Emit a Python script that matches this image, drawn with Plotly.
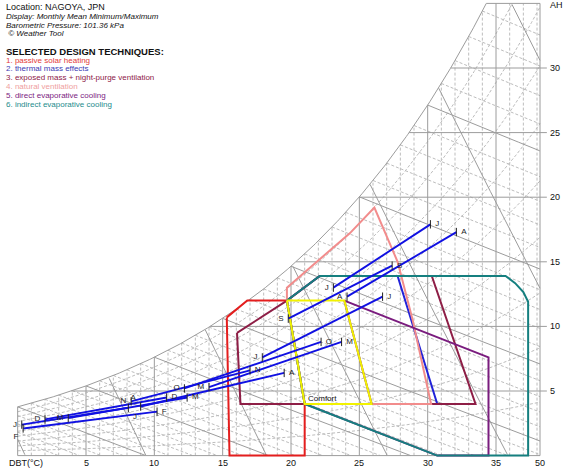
import numpy as np
import plotly.graph_objects as go

# ---------------------------------------------------------------- data
P_KPA = 101.36            # barometric pressure used for the psychrometrics
T_LEFT, T_RIGHT = 0.0, 38.22
W_TOP = 35.0

months = ["J", "F", "M", "A", "M", "J", "J", "A", "S", "O", "N", "D"]
t_min = [0.3, 0.4, 3.7, 9.0, 14.0, 17.9, 23.1, 24.1, 19.8, 12.2, 8.3, 2.0]
ah_at_tmin = [2.4, 2.1, 2.9, 3.8, 5.3, 7.6, 13.0, 12.3, 10.6, 5.2, 4.2, 2.8]
t_max = [8.1, 10.2, 12.4, 19.5, 23.7, 26.7, 30.2, 32.1, 27.4, 22.2, 17.0, 10.9]
ah_at_tmax = [3.7, 3.4, 4.5, 6.4, 8.8, 12.3, 17.9, 17.3, 14.7, 8.8, 6.6, 4.5]

# label placement for each end of the monthly lines
pos_min = ["middle left", "bottom left", "middle left", "top left", "middle left",
           "middle left", "middle left", "middle left", "middle left", "middle left",
           "middle left", "middle left"]
pos_max = ["bottom right", "middle right", "middle right", "middle right", "middle right",
           "middle right", "middle right", "middle right", "middle right", "middle right",
           "middle right", "middle right"]

# design-technique zones, (DBT, AH) vertices
comfort_zone = [(19.7, 12.0), (23.9, 12.0), (25.9, 4.0), (21.0, 4.0)]
passive_solar = [(15.3, 10.7), (16.8, 12.0), (19.7, 12.0), (21.0, 4.0),
                 (21.0, 0.0), (15.5, 0.0)]
thermal_mass = [(19.7, 12.0), (22.1, 13.9), (27.8, 13.9), (30.7, 4.0),
                (21.0, 4.0)]
night_purge = [(16.05, 9.5), (19.7, 12.0), (22.1, 13.9), (30.3, 13.9),
               (33.5, 4.0), (16.3, 4.0)]
natural_vent = [(19.7, 12.0), (19.7, 13.0), (22.1, 15.2), (24.3, 17.2),
                (26.1, 19.2), (27.8, 15.0), (28.9, 10.5), (29.7, 6.6),
                (30.25, 4.0), (21.0, 4.0)]
direct_evap = [(23.9, 12.0), (34.45, 7.6), (34.45, 0.0), (30.7, 0.0),
               (21.0, 4.0), (25.9, 4.0)]
indirect_evap = [(19.7, 12.0), (22.1, 13.9), (35.7, 13.9), (36.4, 13.35),
                 (37.0, 12.65), (37.35, 11.9), (37.35, 0.0), (30.7, 0.0),
                 (21.0, 4.0)]

x_ticks = [5, 10, 15, 20, 25, 30, 35]
x_tick_text = ["5", "10", "15", "20", "25", "30", "35"]
y_ticks = [5, 10, 15, 20, 25, 30]

legend_items = [
    ("1. passive solar heating", "#E23A3A"),
    ("2. thermal mass effects", "#3A3AB4"),
    ("3. exposed mass + night-purge ventilation", "#8E2048"),
    ("4. natural ventilation", "#EFA0A0"),
    ("5. direct evaporative cooling", "#7C2482"),
    ("6. indirect evaporative cooling", "#1E8C8C"),
]

# ---------------------------------------------------------------- psychrometrics
def pws(t):
    return 0.61094 * np.exp(17.625 * t / (t + 243.04))


def w_rh(t, rh):
    pw = rh * pws(t)
    return 622.0 * pw / (P_KPA - pw)


def w_wb(t, twb):
    ws = w_rh(twb, 1.0) / 1000.0
    w = ((2501 - 2.326 * twb) * ws - 1.006 * (t - twb)) / (2501 + 1.86 * t - 4.186 * twb)
    return w * 1000.0


def w_vol(t, v):
    return (v * P_KPA / (0.287 * (t + 273.15)) - 1.0) / 1.6078 * 1000.0


_tt = np.linspace(-10, 50, 6001)
_ws = w_rh(_tt, 1.0)


def t_sat(w):
    return float(np.interp(w, _ws, _tt))


def clip_curve(t, w):
    """Keep the part of a curve lying inside the chart envelope."""
    lim = np.minimum(w_rh(t, 1.0), W_TOP) + 1e-9
    ok = (t >= T_LEFT - 1e-9) & (t <= T_RIGHT + 1e-9) & (w >= -1e-9) & (w <= lim)
    xs, ys = [], []
    prev = False
    for ti, wi, k in zip(t, w, ok):
        if k:
            xs.append(float(ti)); ys.append(float(wi))
        elif prev:
            xs.append(None); ys.append(None)
        prev = k
    xs.append(None); ys.append(None)
    return xs, ys


# ---------------------------------------------------------------- grid
dash_x, dash_y = [], []
solid_x, solid_y = [], []

# relative humidity curves
for rh in np.arange(0.1, 0.95, 0.1):
    t = np.linspace(T_LEFT, T_RIGHT, 500)
    xs, ys = clip_curve(t, w_rh(t, rh))
    dash_x += xs; dash_y += ys

# wet-bulb lines
for twb in range(-4, 36):
    t = np.linspace(max(twb, T_LEFT), T_RIGHT, 600)
    xs, ys = clip_curve(t, w_wb(t, twb))
    if twb % 5 == 0 and twb >= 0:
        solid_x += xs; solid_y += ys
    else:
        dash_x += xs; dash_y += ys

# specific volume lines
for v in np.arange(0.775, 0.93, 0.025):
    t = np.linspace(T_LEFT, T_RIGHT, 800)
    xs, ys = clip_curve(t, w_vol(t, v))
    solid_x += xs; solid_y += ys

# dry-bulb verticals
for t in range(1, 39):
    top = min(w_rh(t, 1.0), W_TOP)
    if t % 5 == 0:
        solid_x += [t, t, None]; solid_y += [0, top, None]
    else:
        dash_x += [t, t, None]; dash_y += [0, top, None]

# saturation curve
ts = np.linspace(T_LEFT, t_sat(W_TOP), 300)
solid_x += list(ts) + [None]; solid_y += list(w_rh(ts, 1.0)) + [None]

# horizontal AH lines with right-hand ticks
tick_end = T_RIGHT + 0.5
for w in y_ticks + [W_TOP]:
    solid_x += [t_sat(w), tick_end if w != W_TOP else T_RIGHT, None]
    solid_y += [w, w, None]

# borders
solid_x += [T_LEFT, T_LEFT, None, T_LEFT, T_RIGHT, T_RIGHT, None]
solid_y += [w_rh(T_LEFT, 1.0), 0, None, 0, 0, W_TOP, None]

fig = go.Figure()
fig.add_trace(go.Scatter(x=dash_x, y=dash_y, mode="lines", hoverinfo="skip",
                         line=dict(color="#BDBDBD", width=1, dash="3px,2px")))
fig.add_trace(go.Scatter(x=solid_x, y=solid_y, mode="lines", hoverinfo="skip",
                         line=dict(color="#9C9C9C", width=1)))


# ---------------------------------------------------------------- zones
def add_zone(pts, color, width=2):
    xs = [p[0] for p in pts] + [pts[0][0]]
    ys = [p[1] for p in pts] + [pts[0][1]]
    fig.add_trace(go.Scatter(x=xs, y=ys, mode="lines", hoverinfo="skip",
                             line=dict(color=color, width=width)))


add_zone(thermal_mass, "#2222D8")
add_zone(night_purge, "#8E1E46")
add_zone(passive_solar, "#E41E1E")
add_zone(natural_vent, "#F28C8C")
add_zone(direct_evap, "#7A1C7E")
add_zone(indirect_evap, "#157F7F")
add_zone(comfort_zone, "#F2F200")

# ---------------------------------------------------------------- monthly lines
for i, m in enumerate(months):
    fig.add_trace(go.Scatter(
        x=[t_min[i], t_max[i]], y=[ah_at_tmin[i], ah_at_tmax[i]],
        mode="lines", hoverinfo="skip",
        line=dict(color="#1010E2", width=1.9)))
label_font = dict(family="Arial, Liberation Sans, sans-serif", size=8, color="#222222")
tick_marker = dict(symbol="line-ns", size=6, line=dict(width=1, color="#222222"))
fig.add_trace(go.Scatter(
    x=t_min, y=ah_at_tmin, mode="markers+text", text=months,
    textposition=pos_min, hoverinfo="skip", textfont=label_font, marker=tick_marker))
fig.add_trace(go.Scatter(
    x=t_max, y=ah_at_tmax, mode="markers+text", text=months,
    textposition=pos_max, hoverinfo="skip", textfont=label_font, marker=tick_marker))

# ---------------------------------------------------------------- text
FONT = "Arial, Liberation Sans, sans-serif"
annotations = []


def label(x, y, text, size=8, color="#111111", xanchor="left", xref="x", yref="y", **kw):
    annotations.append(dict(x=x, y=y, xref=xref, yref=yref, text=text, showarrow=False,
                            xanchor=xanchor, yanchor="middle",
                            font=dict(family=FONT, size=size, color=color), **kw))


label(21.1, 4.45, "Comfort")
for t, s in zip(x_ticks, x_tick_text):
    label(t, -0.55, s, size=9, xanchor="center")
label(T_RIGHT, -0.55, "50", size=9, xanchor="center")
label(-0.75, -0.55, "DBT(°C)", size=9)
for w in y_ticks:
    label(T_RIGHT + 0.55, w, str(w), size=9)
label(T_RIGHT + 0.55, 34.85, "AH", size=9)


# header block (paper coords from pixel positions)
def pxl(px, py, text, size=8, color="#111111", **kw):
    label(px / 573.0, 1 - py / 473.0, text, size=size, color=color,
          xref="paper", yref="paper", **kw)


pxl(4, 7, "Location: NAGOYA, JPN", size=9)
pxl(4, 16, "<i>Display: Monthly Mean Minimum/Maximum</i>")
pxl(4, 25, "<i>Barometric Pressure: 101.36 kPa</i>")
pxl(4, 33, "<i> © Weather Tool</i>")
pxl(4, 51, "<b>SELECTED DESIGN TECHNIQUES:</b>", size=9.5)
for k, (txt, col) in enumerate(legend_items):
    pxl(4, 60 + 8.85 * k, txt, color=col)

# ---------------------------------------------------------------- layout
x0 = -17.67 / 13.667
x1 = (573 - 17.67) / 13.667
y1 = 455.6 / 12.92
y0 = (455.6 - 473) / 12.92

fig.update_layout(
    width=573, height=473,
    margin=dict(l=0, r=0, t=0, b=0),
    paper_bgcolor="white", plot_bgcolor="white",
    showlegend=False,
    xaxis=dict(range=[x0, x1], visible=False, fixedrange=True),
    yaxis=dict(range=[y0, y1], visible=False, fixedrange=True),
    annotations=annotations,
)

fig.write_html("out.html")
